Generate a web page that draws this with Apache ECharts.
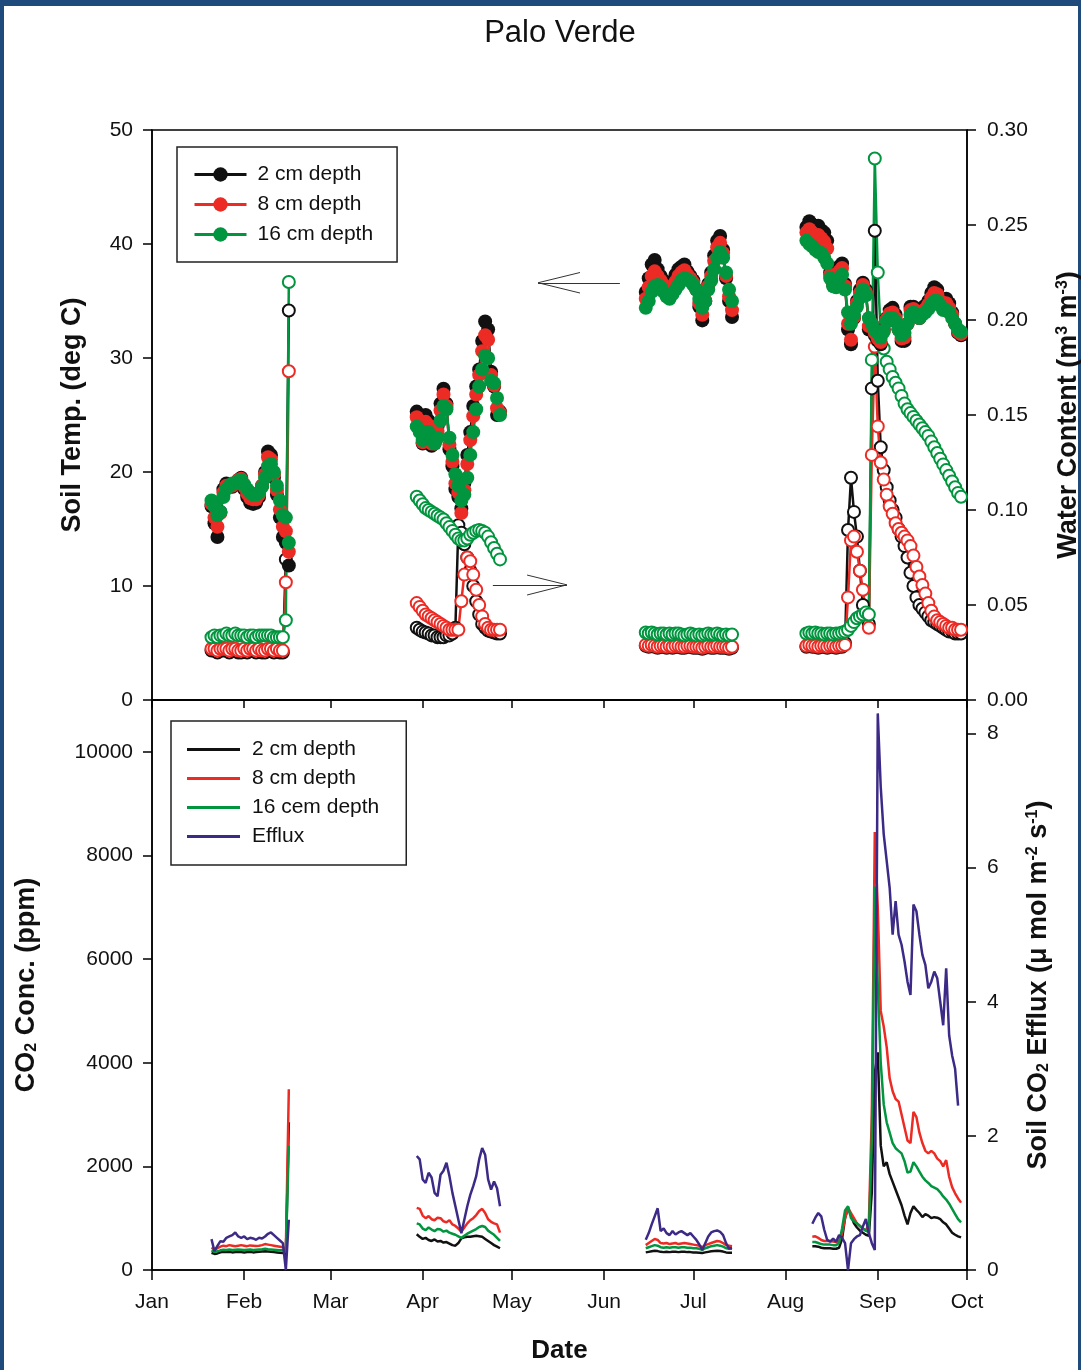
<!DOCTYPE html>
<html>
<head>
<meta charset="utf-8">
<title>Palo Verde</title>
<script src="https://cdn.jsdelivr.net/npm/echarts@6.0.0/dist/echarts.min.js"></script>
<style>
  html, body { margin: 0; padding: 0; background: #fff; }
  #frame { position: absolute; left: 0; top: 0; width: 1081px; height: 1370px; box-sizing: border-box;
           border-top: 6px solid #1f4a7c; border-left: 4px solid #1f4a7c; border-right: 3px solid #1f4a7c; background: #fff; }
  #chart { position: absolute; left: 0; top: 0; width: 1081px; height: 1370px; }
</style>
</head>
<body>
<div id="frame"></div>
<div id="chart"></div>
<script>
// x axis = day of year (0 = Jan 1, leap year)
const monthDays = [0, 31, 60, 91, 121, 152, 182, 213, 244, 274];
const monthLabels = ['Jan', 'Feb', 'Mar', 'Apr', 'May', 'Jun', 'Jul', 'Aug', 'Sep', 'Oct'];

// first day of each measurement campaign (daily values follow)
const segStart = [20, 89, 166, 220];

// soil temperature (deg C)
const temp2cm = [
  [17.0, 15.5, 14.3, 16.5, 18.5, 19.0, 18.8, 18.7, 19.0, 19.3, 19.5, 18.5, 17.8, 17.3, 17.2, 17.3, 17.8, 18.8, 20.0, 21.8, 21.5, 19.5, 18.0, 16.0, 14.3, 13.8, 11.8],
  [25.3, 24.0, 22.5, 25.0, 24.5, 22.3, 22.5, 24.0, 26.0, 27.3, 26.0, 22.0, 20.5, 18.5, 17.8, 16.8, 19.0, 21.5, 23.5, 25.8, 27.5, 29.0, 31.5, 33.2, 32.5, 28.8, 27.5, 25.0, 25.3],
  [35.8, 37.0, 38.2, 38.6, 37.8, 37.2, 36.8, 36.0, 35.5, 36.5, 37.3, 37.8, 38.0, 38.2, 37.6, 37.2, 36.8, 36.0, 34.5, 33.3, 35.0, 36.5, 37.5, 39.0, 40.3, 40.7, 39.5, 37.0, 35.0, 33.6],
  [41.5, 42.0, 41.7, 41.5, 41.6, 41.2, 41.0, 40.3, 37.5, 36.5, 36.3, 38.0, 38.3, 36.5, 32.5, 31.2, 33.5, 35.0, 36.0, 36.6, 36.0, 32.5, 33.0, 32.0, 31.5, 31.2, 32.5, 33.5, 34.2, 34.4, 33.8, 32.5, 31.5, 31.5, 33.0, 34.5, 34.5, 34.0, 33.5, 34.4, 34.6, 35.0, 35.7, 36.2, 36.0, 35.3, 35.0, 35.2, 34.8, 34.0, 33.0, 32.2, 32.0]
];
const temp8cm = [
  [17.2, 16.0, 15.2, 16.4, 18.2, 18.8, 18.8, 18.8, 19.0, 19.3, 19.4, 18.7, 18.1, 17.7, 17.6, 17.6, 18.0, 18.8, 19.8, 21.3, 21.1, 19.8, 18.4, 16.7, 15.2, 14.8, 13.0],
  [24.8, 23.8, 22.6, 24.4, 24.1, 22.5, 22.5, 23.6, 25.4, 26.8, 25.8, 22.4, 20.9, 19.0, 18.2, 16.4, 18.4, 20.7, 22.8, 24.9, 26.8, 28.5, 30.6, 32.0, 31.6, 28.5, 27.6, 25.6, 25.2],
  [35.2, 36.2, 37.2, 37.6, 37.2, 36.8, 36.4, 35.7, 35.3, 36.1, 36.7, 37.2, 37.5, 37.7, 37.3, 37.0, 36.6, 36.0, 34.8, 33.8, 35.0, 36.3, 37.2, 38.5, 39.7, 40.1, 39.2, 37.2, 35.4, 34.2],
  [41.0, 41.3, 41.0, 40.8, 40.8, 40.5, 40.2, 39.6, 37.3, 36.4, 36.3, 37.6, 37.9, 36.3, 33.0, 31.6, 33.6, 34.8, 35.7, 36.4, 35.8, 32.8, 33.0, 32.2, 31.7, 31.4, 32.4, 33.4, 33.9, 34.0, 33.5, 32.5, 31.7, 31.8, 33.0, 34.2, 34.3, 33.9, 33.5, 34.1, 34.3, 34.7, 35.3, 35.7, 35.6, 35.0, 34.6, 34.8, 34.4, 33.8, 33.0, 32.3, 32.1]
];
const temp16cm = [
  [17.5, 17.0, 16.2, 16.5, 17.8, 18.5, 18.8, 19.0, 19.0, 19.2, 19.3, 18.9, 18.5, 18.2, 18.0, 18.0, 18.2, 18.7, 19.5, 20.5, 20.7, 20.0, 18.8, 17.5, 16.2, 16.0, 13.8],
  [24.0, 23.5, 22.8, 23.5, 23.5, 22.8, 22.5, 23.0, 24.5, 25.8, 25.5, 23.0, 21.5, 19.8, 18.8, 17.5, 18.0, 19.5, 21.5, 23.5, 25.5, 27.5, 29.0, 30.2, 30.0, 28.0, 27.8, 26.5, 25.0],
  [34.4, 35.0, 35.8, 36.3, 36.4, 36.2, 35.8, 35.4, 35.2, 35.6, 36.0, 36.4, 36.8, 37.0, 36.9, 36.7, 36.4, 36.0, 35.2, 34.4, 35.0, 36.0, 36.8, 37.8, 38.8, 39.3, 38.8, 37.5, 36.0, 35.0],
  [40.3, 40.0, 39.8, 39.5, 39.3, 39.2, 38.8, 38.3, 37.0, 36.3, 36.2, 37.0, 37.3, 36.0, 34.0, 33.0, 33.8, 34.5, 35.3, 36.0, 35.5, 33.5, 33.0, 32.5, 32.2, 31.8, 32.3, 33.2, 33.5, 33.5, 33.2, 32.5, 32.0, 32.2, 33.0, 33.8, 34.0, 33.7, 33.5, 33.8, 34.0, 34.3, 34.7, 35.0, 35.0, 34.6, 34.2, 34.2, 34.0, 33.5, 33.0, 32.5, 32.3]
];

// volumetric water content (m3 m-3)
const wc2cm = [
  [0.026, 0.026, 0.025, 0.026, 0.026, 0.026, 0.025, 0.026, 0.026, 0.025, 0.025, 0.026, 0.025, 0.026, 0.026, 0.025, 0.026, 0.025, 0.025, 0.026, 0.026, 0.025, 0.026, 0.025, 0.025, 0.074, 0.205],
  [0.038, 0.037, 0.036, 0.0355, 0.035, 0.034, 0.034, 0.033, 0.033, 0.033, 0.034, 0.034, 0.035, 0.038, 0.092, 0.088, 0.082, 0.075, 0.068, 0.060, 0.052, 0.045, 0.040, 0.038, 0.0365, 0.036, 0.0355, 0.035, 0.035],
  [0.0285, 0.028, 0.0285, 0.028, 0.0275, 0.028, 0.028, 0.0275, 0.028, 0.0275, 0.028, 0.028, 0.0275, 0.0275, 0.028, 0.028, 0.0275, 0.0275, 0.0275, 0.027, 0.0275, 0.028, 0.0275, 0.0275, 0.028, 0.0275, 0.0275, 0.0275, 0.027, 0.0275],
  [0.028, 0.0285, 0.028, 0.028, 0.0275, 0.028, 0.028, 0.0275, 0.028, 0.028, 0.0275, 0.028, 0.028, 0.030, 0.0895, 0.117, 0.099, 0.086, 0.068, 0.050, 0.044, 0.040, 0.164, 0.247, 0.168, 0.133, 0.121, 0.112, 0.105, 0.100, 0.096, 0.090, 0.086, 0.081, 0.075, 0.067, 0.060, 0.054, 0.050, 0.048, 0.046, 0.044, 0.042, 0.041, 0.040, 0.039, 0.038, 0.037, 0.036, 0.036, 0.035, 0.035, 0.035]
];
const wc8cm = [
  [0.027, 0.027, 0.026, 0.027, 0.027, 0.027, 0.026, 0.027, 0.027, 0.026, 0.026, 0.027, 0.026, 0.027, 0.027, 0.026, 0.027, 0.026, 0.026, 0.027, 0.027, 0.026, 0.027, 0.026, 0.026, 0.062, 0.173],
  [0.051, 0.049, 0.047, 0.045, 0.044, 0.043, 0.042, 0.041, 0.040, 0.039, 0.038, 0.037, 0.037, 0.037, 0.037, 0.052, 0.066, 0.075, 0.073, 0.066, 0.058, 0.050, 0.044, 0.040, 0.038, 0.037, 0.037, 0.037, 0.037],
  [0.029, 0.0285, 0.029, 0.0285, 0.028, 0.0285, 0.0285, 0.028, 0.0285, 0.028, 0.0285, 0.0285, 0.028, 0.028, 0.0285, 0.0285, 0.028, 0.028, 0.028, 0.0275, 0.028, 0.0285, 0.028, 0.028, 0.0285, 0.028, 0.028, 0.028, 0.0275, 0.028],
  [0.0285, 0.029, 0.0285, 0.0285, 0.028, 0.0285, 0.0285, 0.028, 0.0285, 0.0285, 0.028, 0.0285, 0.0285, 0.029, 0.054, 0.084, 0.086, 0.078, 0.068, 0.058, 0.045, 0.038, 0.129, 0.186, 0.144, 0.125, 0.116, 0.108, 0.102, 0.098, 0.093, 0.090, 0.088, 0.086, 0.084, 0.081, 0.076, 0.070, 0.065, 0.0605, 0.056, 0.051, 0.047, 0.044, 0.042, 0.041, 0.040, 0.039, 0.038, 0.038, 0.037, 0.037, 0.037]
];
const wc16cm = [
  [0.033, 0.034, 0.033, 0.034, 0.034, 0.035, 0.034, 0.034, 0.035, 0.034, 0.034, 0.034, 0.033, 0.034, 0.034, 0.033, 0.034, 0.034, 0.034, 0.034, 0.034, 0.033, 0.033, 0.033, 0.033, 0.042, 0.220],
  [0.107, 0.105, 0.103, 0.101, 0.100, 0.099, 0.098, 0.097, 0.096, 0.095, 0.093, 0.091, 0.089, 0.087, 0.085, 0.084, 0.084, 0.085, 0.087, 0.088, 0.089, 0.0895, 0.089, 0.088, 0.086, 0.083, 0.080, 0.077, 0.074],
  [0.0355, 0.035, 0.0355, 0.035, 0.0345, 0.035, 0.035, 0.0345, 0.035, 0.0345, 0.035, 0.035, 0.0345, 0.034, 0.0345, 0.035, 0.0345, 0.034, 0.0345, 0.034, 0.0345, 0.035, 0.0345, 0.0345, 0.035, 0.0345, 0.034, 0.0345, 0.034, 0.0345],
  [0.035, 0.0355, 0.035, 0.0355, 0.035, 0.035, 0.0345, 0.035, 0.035, 0.0345, 0.035, 0.035, 0.0355, 0.036, 0.037, 0.039, 0.041, 0.043, 0.044, 0.045, 0.046, 0.045, 0.179, 0.285, 0.225, 0.193, 0.185, 0.178, 0.174, 0.170, 0.167, 0.164, 0.160, 0.156, 0.153, 0.151, 0.149, 0.147, 0.145, 0.143, 0.141, 0.139, 0.136, 0.133, 0.130, 0.127, 0.124, 0.121, 0.118, 0.115, 0.112, 0.109, 0.107]
];

// soil CO2 concentration (ppm)
const co2_2cm = [
  [330, 310, 320, 340, 350, 345, 350, 340, 345, 350, 345, 340, 345, 350, 340, 345, 350, 355, 360, 355, 350, 345, 340, 335, 330, 300, 2850],
  [690, 640, 600, 620, 580, 560, 590, 550, 560, 530, 540, 510, 480, 470, 520, 610, 630, 640, 640, 650, 660, 650, 640, 600, 560, 520, 480, 450, 420],
  [340, 350, 360, 370, 365, 350, 345, 350, 345, 350, 350, 345, 350, 350, 345, 345, 340, 340, 335, 330, 340, 350, 360, 365, 370, 365, 355, 340, 335, 335],
  [null, null, 460, 460, 450, 430, 420, 420, 420, 410, 410, 430, 600, 1000, 1200, 1050, 900, 820, 760, 720, 680, 660, 1500, 3800, 4200, 2400, 2000, 2080, 1850, 1700, 1550, 1400, 1250, 1050, 880, 1100, 1230, 1160, 1100, 1020, 1080, 1050, 1000, 1020, 1010, 980, 920, 880, 800, 720, 680, 650, 630]
];
const co2_8cm = [
  [430, 400, 420, 450, 470, 460, 480, 470, 460, 470, 480, 470, 460, 475, 470, 465, 470, 480, 500, 490, 480, 470, 460, 450, 440, 400, 3490],
  [1200, 1180, 1050, 1000, 1040, 980, 960, 1010, 1000, 940, 920, 960, 880, 850, 800, 740, 820, 900, 960, 1000, 1060, 1140, 1180, 1100, 980, 930, 900, 880, 720],
  [480, 520, 560, 600, 580, 520, 510, 520, 500, 510, 520, 500, 510, 520, 510, 500, 490, 480, 470, 440, 480, 500, 520, 540, 560, 550, 520, 480, 470, 460],
  [null, null, 640, 650, 620, 580, 560, 560, 560, 550, 540, 560, 700, 1000, 1200, 1100, 1000, 900, 850, 800, 760, 900, 3000, 8450, 7000, 5000, 4700, 4300, 3700, 3450, 3300, 3250, 3000, 2750, 2500, 2450, 3050, 2950, 2650, 2450, 2300, 2250, 2300, 2250, 2150, 2100, 2000, 2120, 1800, 1600, 1480, 1380, 1300]
];
const co2_16cm = [
  [380, 350, 360, 380, 390, 385, 395, 385, 390, 395, 390, 385, 390, 395, 385, 390, 395, 400, 410, 400, 395, 390, 385, 380, 380, 350, 2400],
  [900, 880, 800, 770, 820, 780, 750, 790, 780, 740, 760, 720, 700, 680, 650, 620, 660, 700, 730, 760, 790, 830, 850, 830, 760, 720, 680, 620, 560],
  [420, 440, 460, 480, 470, 440, 430, 440, 430, 440, 440, 430, 440, 440, 430, 430, 420, 420, 410, 390, 420, 440, 460, 470, 480, 470, 450, 420, 410, 410],
  [null, null, 540, 540, 520, 500, 490, 490, 490, 480, 480, 520, 800, 1150, 1230, 1000, 940, 900, 850, 800, 760, 730, 2500, 7400, 5500, 4000, 3200, 2850, 2650, 2450, 2350, 2300, 2250, 2100, 1880, 1900, 2080, 2000, 1900, 1800, 1730, 1680, 1620, 1590, 1560, 1500, 1420, 1360, 1280, 1180, 1080, 980, 920]
];

// soil CO2 efflux (umol m-2 s-1)
const efflux = [
  [0.46, 0.28, 0.36, 0.43, 0.42, 0.48, 0.50, 0.52, 0.56, 0.50, 0.48, 0.50, 0.46, 0.48, 0.47, 0.45, 0.48, 0.47, 0.50, 0.54, 0.56, 0.52, 0.48, 0.44, 0.40, 0.0, 0.75],
  [1.70, 1.65, 1.35, 1.30, 1.45, 1.38, 1.15, 1.10, 1.42, 1.48, 1.60, 1.40, 1.15, 0.95, 0.75, 0.55, 0.75, 0.95, 1.12, 1.25, 1.40, 1.65, 1.82, 1.72, 1.35, 1.20, 1.32, 1.22, 0.95],
  [0.45, 0.55, 0.68, 0.80, 0.92, 0.58, 0.62, 0.55, 0.52, 0.58, 0.53, 0.56, 0.58, 0.55, 0.52, 0.55, 0.50, 0.45, 0.38, 0.30, 0.40, 0.50, 0.56, 0.58, 0.59, 0.57, 0.52, 0.40, 0.32, 0.33],
  [null, null, 0.69, 0.78, 0.85, 0.80, 0.60, 0.45, 0.42, 0.47, 0.42, 0.52, 0.48, 0.40, 0.0, 0.40, 0.46, 0.50, 0.52, 0.65, 0.76, 0.55, 0.40, 0.30, 8.3, 7.2, 6.5, 6.1, 5.7, 5.0, 5.5, 5.0, 4.85, 4.6, 4.3, 4.1, 5.45, 5.35, 5.0, 4.7, 4.55, 4.2, 4.3, 4.45, 4.35, 4.0, 3.65, 4.5, 3.5, 3.2, 3.0, 2.45, null]
];

// annotation arrows in the top panel, [day, deg C] end points
const arrowLines = [
  [[157.3, 36.6], [129.8, 36.6]], [[129.8, 36.6], [143.9, 37.5]], [[129.8, 36.6], [143.9, 35.7]],
  [[114.6, 10.1], [139.5, 10.1]], [[139.5, 10.1], [126.1, 10.96]], [[139.5, 10.1], [126.1, 9.21]]
];

const FONT = "'Liberation Sans', Arial, Helvetica, sans-serif";
const C_BLACK = '#111111', C_RED = '#ec2b25', C_GREEN = '#00953e', C_PURPLE = '#3c2a86';

// turn the per-campaign arrays into [day, value] pairs with a break between campaigns
function build(segs) {
  const out = [];
  segs.forEach((seg, s) => {
    if (s > 0) out.push([segStart[s] - 1, '-']);
    seg.forEach((v, i) => out.push([segStart[s] + i, v == null ? '-' : v]));
  });
  return out;
}

function tempSeries(name, vals, color) {
  return {
    name: name, type: 'line', xAxisIndex: 0, yAxisIndex: 0, data: build(vals),
    symbol: 'circle', symbolSize: 14, connectNulls: false,
    itemStyle: { color: color }, lineStyle: { color: color, width: 2.5 }
  };
}
function wcSeries(name, vals, color) {
  return {
    name: name, type: 'line', xAxisIndex: 0, yAxisIndex: 1, data: build(vals),
    symbol: 'circle', symbolSize: 12, connectNulls: false,
    itemStyle: { color: '#fff', borderColor: color, borderWidth: 2 }, lineStyle: { color: color, width: 2.5 }
  };
}
function co2Series(name, vals, color, yIdx) {
  return {
    name: name, type: 'line', xAxisIndex: 1, yAxisIndex: yIdx, data: build(vals),
    symbol: 'none', showSymbol: false, connectNulls: false,
    itemStyle: { color: color }, lineStyle: { color: color, width: 2.5 }
  };
}

const bottomNames = { 'CO2 2 cm': '2 cm depth', 'CO2 8 cm': '8 cm depth', 'CO2 16 cm': '16 cem depth', 'Efflux': 'Efflux' };

const nameStyle = {
  fontSize: 27, fontWeight: 'bold', color: '#111', fontFamily: FONT,
  rich: {
    t: { fontSize: 27, fontWeight: 'bold', color: '#111', fontFamily: FONT },
    sup: { fontSize: 16, fontWeight: 'bold', color: '#111', fontFamily: FONT, verticalAlign: 'top' },
    sub: { fontSize: 16, fontWeight: 'bold', color: '#111', fontFamily: FONT, verticalAlign: 'bottom' }
  }
};
const axisLineStyle = { color: '#000', width: 1.5 };
const labelStyle = { fontSize: 21, color: '#111', fontFamily: FONT };
const plainNum = function (v) { return String(v); };

const chart = echarts.init(document.getElementById('chart'), null, { renderer: 'canvas' });

const option = {
  animation: false,
  textStyle: { fontFamily: FONT },
  title: {
    text: 'Palo Verde', left: 555, top: 13, textAlign: 'center',
    textStyle: { fontSize: 31, fontWeight: 'normal', color: '#111', fontFamily: FONT }
  },
  legend: [
    {
      data: ['2 cm depth', '8 cm depth', '16 cm depth'],
      orient: 'vertical', left: 177, top: 147,
      padding: [17, 24, 17, 16], itemGap: 9, itemWidth: 52, itemHeight: 18,
      borderColor: '#222', borderWidth: 1.5, backgroundColor: '#fff',
      selectedMode: false,
      lineStyle: { width: 3 },
      textStyle: { fontSize: 21, color: '#111', fontFamily: FONT, padding: [0, 0, 0, 6] }
    },
    {
      data: ['CO2 2 cm', 'CO2 8 cm', 'CO2 16 cm', 'Efflux'],
      formatter: function (name) { return bottomNames[name]; },
      orient: 'vertical', left: 171, top: 721,
      padding: [18, 27, 18, 16], itemGap: 8, itemWidth: 53, itemHeight: 3, icon: 'rect',
      borderColor: '#222', borderWidth: 1.5, backgroundColor: '#fff',
      selectedMode: false,
      textStyle: { fontSize: 21, color: '#111', fontFamily: FONT, padding: [0, 0, 0, 7] }
    }
  ],
  grid: [
    { left: 152, top: 130, width: 815, height: 570, show: true, borderColor: '#000', borderWidth: 1.5, outerBoundsMode: 'none', containLabel: false },
    { left: 152, top: 700, width: 815, height: 570, show: true, borderColor: '#000', borderWidth: 1.5, outerBoundsMode: 'none', containLabel: false }
  ],
  xAxis: [
    {
      type: 'value', gridIndex: 0, min: 0, max: 274,
      splitLine: { show: false },
      axisLine: { show: true, lineStyle: axisLineStyle },
      axisTick: { show: true, customValues: monthDays, length: 8, lineStyle: axisLineStyle },
      axisLabel: { show: false }
    },
    {
      type: 'value', gridIndex: 1, min: 0, max: 274,
      splitLine: { show: false },
      axisLine: { show: true, lineStyle: axisLineStyle },
      axisTick: { show: true, customValues: monthDays, length: 10, lineStyle: axisLineStyle },
      axisLabel: Object.assign({
        customValues: monthDays, margin: 22,
        formatter: function (v) { return monthLabels[monthDays.indexOf(Math.round(v))]; }
      }, labelStyle),
      name: 'Date', nameLocation: 'middle', nameGap: 68,
      nameTextStyle: { fontSize: 26, fontWeight: 'bold', color: '#111', fontFamily: FONT }
    }
  ],
  yAxis: [
    {
      type: 'value', gridIndex: 0, position: 'left', min: 0, max: 50, interval: 10,
      splitLine: { show: false },
      axisLine: { show: true, lineStyle: axisLineStyle },
      axisTick: { show: true, length: 9, lineStyle: axisLineStyle },
      axisLabel: Object.assign({ margin: 19, formatter: plainNum }, labelStyle),
      name: 'Soil Temp. (deg C)', nameLocation: 'middle', nameRotate: 90, nameGap: 66,
      nameTextStyle: nameStyle
    },
    {
      type: 'value', gridIndex: 0, position: 'right', min: 0, max: 0.3, interval: 0.05,
      splitLine: { show: false },
      axisLine: { show: true, lineStyle: axisLineStyle },
      axisTick: { show: true, length: 9, lineStyle: axisLineStyle },
      axisLabel: Object.assign({ margin: 20, formatter: function (v) { return v.toFixed(2); } }, labelStyle),
      name: '{t|Water Content (m}{sup|3}{t| m}{sup|-3}{t|)}', nameLocation: 'middle', nameRotate: 90, nameGap: 88,
      nameTextStyle: nameStyle
    },
    {
      type: 'value', gridIndex: 1, position: 'left', min: 0, max: 11000, interval: 2000,
      splitLine: { show: false },
      axisLine: { show: true, lineStyle: axisLineStyle },
      axisTick: { show: true, length: 9, lineStyle: axisLineStyle },
      axisLabel: Object.assign({ margin: 19, showMaxLabel: false, formatter: plainNum }, labelStyle),
      name: '{t|CO}{sub|2}{t| Conc. (ppm)}', nameLocation: 'middle', nameRotate: 90, nameGap: 112,
      nameTextStyle: nameStyle
    },
    {
      type: 'value', gridIndex: 1, position: 'right', min: 0, max: 8.5, interval: 2,
      splitLine: { show: false },
      axisLine: { show: true, lineStyle: axisLineStyle },
      axisTick: { show: true, length: 9, lineStyle: axisLineStyle },
      axisLabel: Object.assign({ margin: 20, showMaxLabel: false, formatter: plainNum }, labelStyle),
      name: '{t|Soil CO}{sub|2}{t| Efflux (μ mol m}{sup|-2}{t| s}{sup|-1}{t|)}', nameLocation: 'middle', nameRotate: 90, nameGap: 58,
      nameTextStyle: nameStyle
    }
  ],
  series: [
    wcSeries('WC 2 cm', wc2cm, C_BLACK),
    wcSeries('WC 8 cm', wc8cm, C_RED),
    wcSeries('WC 16 cm', wc16cm, C_GREEN),
    tempSeries('2 cm depth', temp2cm, C_BLACK),
    tempSeries('8 cm depth', temp8cm, C_RED),
    Object.assign(tempSeries('16 cm depth', temp16cm, C_GREEN), {
      markLine: {
        silent: true, symbol: ['none', 'none'], animation: false,
        label: { show: false },
        lineStyle: { color: '#333', width: 1, type: 'solid' },
        emphasis: { disabled: true },
        data: arrowLines.map(function (seg) { return [{ coord: seg[0] }, { coord: seg[1] }]; })
      }
    }),
    co2Series('CO2 2 cm', co2_2cm, C_BLACK, 2),
    co2Series('CO2 8 cm', co2_8cm, C_RED, 2),
    co2Series('CO2 16 cm', co2_16cm, C_GREEN, 2),
    co2Series('Efflux', efflux, C_PURPLE, 3)
  ]
};

chart.setOption(option);
window.addEventListener('resize', chart.resize);
</script>
</body>
</html>
